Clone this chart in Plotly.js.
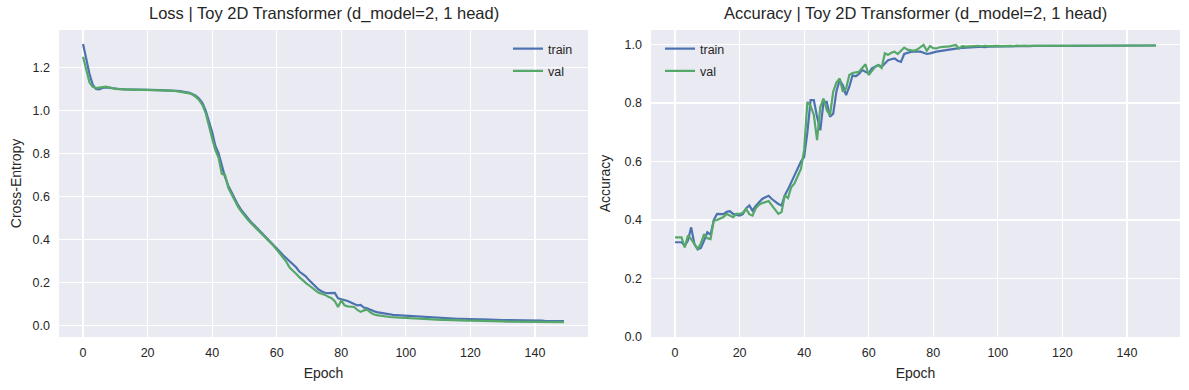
<!DOCTYPE html>
<html>
<head>
<meta charset="utf-8">
<script src="https://cdn.plot.ly/plotly-3.0.1.min.js"></script>
<style>html,body{margin:0;padding:0;background:#fff;}#chart{width:1189px;height:390px;}</style>
</head>
<body>
<div id="chart"></div>
<script>
const epochs = Array.from({length: 150}, (_, i) => i);

const lossTrain = [
1.310,1.240,1.170,1.120,1.100,1.098,1.105,1.108,1.106,1.102,
1.100,1.099,1.099,1.098,1.098,1.097,1.097,1.097,1.096,1.096,
1.096,1.095,1.095,1.095,1.095,1.094,1.094,1.093,1.092,1.091,
1.090,1.088,1.086,1.082,1.076,1.068,1.055,1.035,1.000,0.955,
0.900,0.835,0.800,0.745,0.690,0.650,0.620,0.588,0.560,0.537,
0.517,0.498,0.481,0.466,0.451,0.437,0.422,0.407,0.392,0.376,
0.360,0.342,0.326,0.312,0.295,0.284,0.270,0.250,0.238,0.228,
0.210,0.195,0.180,0.166,0.157,0.151,0.149,0.148,0.150,0.125,
0.121,0.120,0.113,0.106,0.100,0.092,0.094,0.082,0.079,0.071,
0.066,0.061,0.058,0.055,0.052,0.050,0.048,0.047,0.046,0.044,
0.043,0.042,0.041,0.040,0.039,0.038,0.037,0.036,0.035,0.034,
0.033,0.033,0.032,0.032,0.031,0.031,0.030,0.030,0.029,0.029,
0.028,0.028,0.027,0.027,0.027,0.026,0.026,0.025,0.025,0.025,
0.024,0.024,0.024,0.023,0.023,0.023,0.022,0.022,0.022,0.021,
0.021,0.021,0.021,0.020,0.020,0.020,0.020,0.019,0.019,0.019];

const lossVal = [
1.250,1.185,1.130,1.110,1.104,1.107,1.110,1.111,1.108,1.104,
1.101,1.100,1.099,1.098,1.098,1.097,1.097,1.097,1.096,1.096,
1.096,1.095,1.095,1.095,1.094,1.094,1.093,1.093,1.092,1.090,
1.089,1.087,1.084,1.080,1.073,1.063,1.048,1.025,0.988,0.935,
0.870,0.815,0.780,0.705,0.700,0.640,0.610,0.577,0.552,0.530,
0.510,0.492,0.476,0.461,0.447,0.433,0.418,0.403,0.388,0.370,
0.352,0.332,0.312,0.295,0.268,0.255,0.240,0.224,0.208,0.197,
0.186,0.176,0.162,0.151,0.146,0.141,0.132,0.126,0.112,0.085,
0.115,0.093,0.088,0.087,0.085,0.071,0.062,0.069,0.072,0.060,
0.051,0.047,0.044,0.042,0.040,0.038,0.037,0.036,0.035,0.034,
0.033,0.032,0.031,0.031,0.030,0.029,0.029,0.028,0.027,0.027,
0.026,0.025,0.025,0.024,0.024,0.023,0.023,0.022,0.022,0.021,
0.021,0.021,0.020,0.020,0.020,0.019,0.019,0.019,0.018,0.018,
0.018,0.017,0.017,0.017,0.017,0.016,0.016,0.016,0.016,0.016,
0.015,0.015,0.015,0.015,0.015,0.014,0.014,0.014,0.014,0.014];

const accTrain = [
0.324,0.324,0.324,0.312,0.330,0.375,0.318,0.300,0.305,0.330,
0.358,0.350,0.400,0.421,0.421,0.420,0.428,0.430,0.421,0.418,
0.415,0.420,0.440,0.450,0.432,0.448,0.460,0.472,0.478,0.483,
0.472,0.462,0.455,0.450,0.484,0.505,0.530,0.555,0.580,0.600,
0.615,0.700,0.810,0.810,0.753,0.707,0.804,0.804,0.753,0.764,
0.840,0.879,0.860,0.827,0.856,0.895,0.892,0.900,0.913,0.906,
0.901,0.919,0.925,0.930,0.924,0.935,0.947,0.950,0.953,0.945,
0.941,0.968,0.972,0.975,0.976,0.976,0.976,0.972,0.968,0.970,
0.974,0.976,0.978,0.980,0.982,0.983,0.985,0.986,0.988,0.989,
0.990,0.991,0.991,0.991,0.992,0.992,0.991,0.993,0.993,0.994,
0.994,0.994,0.995,0.994,0.995,0.995,0.994,0.995,0.996,0.995,
0.995,0.996,0.995,0.996,0.996,0.995,0.996,0.996,0.997,0.996,
0.996,0.996,0.997,0.996,0.997,0.997,0.996,0.997,0.997,0.997,
0.996,0.997,0.997,0.997,0.997,0.996,0.997,0.997,0.997,0.998,
0.997,0.997,0.997,0.998,0.997,0.997,0.998,0.997,0.997,0.997];

const accVal = [
0.341,0.341,0.341,0.306,0.347,0.335,0.320,0.301,0.320,0.352,
0.338,0.335,0.398,0.400,0.405,0.410,0.421,0.415,0.410,0.421,
0.421,0.425,0.438,0.420,0.415,0.440,0.452,0.458,0.462,0.465,
0.450,0.435,0.421,0.427,0.485,0.475,0.512,0.525,0.550,0.575,
0.640,0.804,0.790,0.760,0.673,0.787,0.816,0.776,0.758,0.839,
0.870,0.884,0.839,0.850,0.896,0.903,0.905,0.907,0.920,0.933,
0.896,0.910,0.924,0.930,0.920,0.970,0.965,0.972,0.976,0.968,
0.980,0.990,0.983,0.981,0.979,0.983,0.992,0.999,0.979,0.995,
0.988,0.987,0.991,0.993,0.993,0.994,0.996,0.999,0.987,0.995,
0.993,0.994,0.995,0.995,0.996,0.994,0.996,0.995,0.996,0.996,
0.996,0.995,0.996,0.997,0.996,0.995,0.997,0.996,0.996,0.997,
0.996,0.996,0.997,0.996,0.997,0.997,0.996,0.997,0.996,0.997,
0.997,0.998,0.997,0.996,0.997,0.998,0.997,0.997,0.998,0.997,
0.997,0.997,0.998,0.997,0.997,0.998,0.997,0.997,0.998,0.997,
0.997,0.998,0.997,0.997,0.998,0.997,0.997,0.998,0.997,0.997];

const seriesNames = ['train', 'val'];
const lossTicks = [0.0, 0.2, 0.4, 0.6, 0.8, 1.0, 1.2];
const accTicks = [0.0, 0.2, 0.4, 0.6, 0.8, 1.0];
const epochTicks = [0, 20, 40, 60, 80, 100, 120, 140];

const BLUE = '#4C72B0', GREEN = '#55A868';
const FONT = '"Liberation Sans", Arial, "DejaVu Sans", sans-serif';
const TXT = '#262626';

function line(x, y, name, color, xa, ya, legend, group) {
  return {x, y, name, type: 'scatter', mode: 'lines', xaxis: xa, yaxis: ya,
    legend, legendgroup: group,
    line: {color, width: 2.2}, hoverinfo: 'skip'};
}

const traces = [
  line(epochs, lossTrain, seriesNames[0], BLUE, 'x', 'y', 'legend', 'a'),
  line(epochs, lossVal, seriesNames[1], GREEN, 'x', 'y', 'legend', 'b'),
  line(epochs, accTrain, seriesNames[0], BLUE, 'x2', 'y2', 'legend2', 'c'),
  line(epochs, accVal, seriesNames[1], GREEN, 'x2', 'y2', 'legend2', 'd'),
];

const W = 1189, H = 390;
const px = v => v / W, py = v => 1 - v / H;

const axBase = {
  showgrid: true, gridcolor: '#ffffff', gridwidth: 1.3, zeroline: false,
  showline: false, ticks: '', tickfont: {family: FONT, size: 12.5, color: TXT},
  fixedrange: true
};

const xRange = [-7.45, 156.45];
const labelFont = {family: FONT, size: 14, color: TXT};

const layout = {
  width: W, height: H,
  margin: {l: 0, r: 0, t: 0, b: 0},
  paper_bgcolor: '#ffffff', plot_bgcolor: '#EAEAF2',
  font: {family: FONT, color: TXT},
  showlegend: true,
  xaxis: Object.assign({}, axBase, {domain: [px(59), px(588)], range: xRange,
    tickvals: epochTicks, ticktext: epochTicks.map(String), anchor: 'y',
    ticklabelstandoff: 6,
    title: {text: 'Epoch', font: labelFont, standoff: 9}}),
  yaxis: Object.assign({}, axBase, {domain: [py(337), py(30)], range: [-0.055, 1.375],
    tickvals: lossTicks, ticktext: lossTicks.map(v => v.toFixed(1)), anchor: 'x',
    ticklabelstandoff: 8,
    title: {text: 'Cross-Entropy', font: labelFont, standoff: 7}}),
  xaxis2: Object.assign({}, axBase, {domain: [px(651), px(1180)], range: xRange,
    tickvals: epochTicks, ticktext: epochTicks.map(String), anchor: 'y2',
    ticklabelstandoff: 6,
    title: {text: 'Epoch', font: labelFont, standoff: 9}}),
  yaxis2: Object.assign({}, axBase, {domain: [py(337), py(30)], range: [0, 1.05],
    tickvals: accTicks, ticktext: accTicks.map(v => v.toFixed(1)), anchor: 'x2',
    ticklabelstandoff: 8,
    title: {text: 'Accuracy', font: labelFont, standoff: 10}}),
  legend: {x: px(588 - 10), y: py(34), xanchor: 'right', yanchor: 'top',
    bgcolor: 'rgba(0,0,0,0)', borderwidth: 0, itemwidth: 30,
    traceorder: 'grouped', tracegroupgap: 3,
    font: {family: FONT, size: 12.5, color: TXT}},
  legend2: {x: px(651 + 9), y: py(34), xanchor: 'left', yanchor: 'top',
    bgcolor: 'rgba(0,0,0,0)', borderwidth: 0, itemwidth: 30,
    traceorder: 'grouped', tracegroupgap: 3,
    font: {family: FONT, size: 12.5, color: TXT}},
  annotations: [
    {text: 'Loss | Toy 2D Transformer (d_model=2, 1 head)', xref: 'paper', yref: 'paper',
     x: px((59 + 588) / 2), y: py(14), xanchor: 'center', yanchor: 'middle', showarrow: false,
     font: {family: FONT, size: 16.5, color: TXT}},
    {text: 'Accuracy | Toy 2D Transformer (d_model=2, 1 head)', xref: 'paper', yref: 'paper',
     x: px((651 + 1180) / 2), y: py(14), xanchor: 'center', yanchor: 'middle', showarrow: false,
     font: {family: FONT, size: 16.5, color: TXT}}
  ]
};

Plotly.newPlot('chart', traces, layout, {displayModeBar: false, staticPlot: true});
</script>
</body>
</html>
